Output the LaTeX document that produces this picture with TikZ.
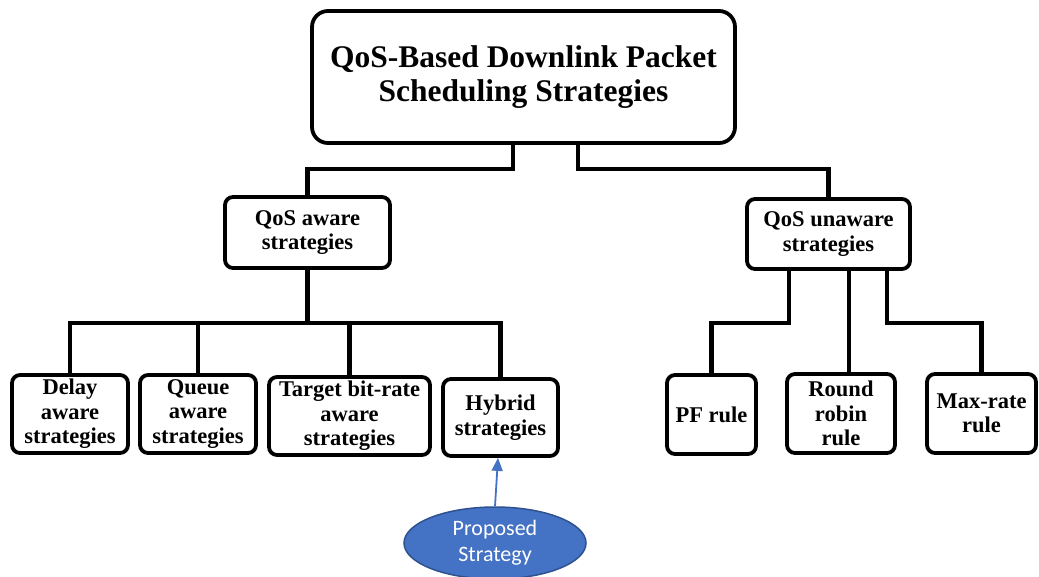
\documentclass[tikz,border=0pt]{standalone}
\usepackage{fontspec}
\setmainfont{Liberation Serif}
\newfontfamily\calfont{Carlito}
\usetikzlibrary{shapes.geometric,arrows.meta,calc}
\definecolor{propblue}{RGB}{68,114,196}
\definecolor{propedge}{RGB}{47,82,143}
\tikzset{
  box/.style={draw, line width=3.8pt, rounded corners=8pt, align=center, inner sep=0pt,
    font=\bfseries\fontsize{22.5}{24.5}\selectfont},
  titlebox/.style={box, rounded corners=16pt, font=\bfseries\fontsize{31.5}{34}\selectfont},
  conn/.style={line width=4.6pt, line join=miter, line cap=rect},
  propnode/.style={ellipse, draw=propedge, line width=1.5pt, fill=propblue, text=white,
    align=center, inner sep=0pt, font=\calfont\fontsize{22}{26}\selectfont},
  proparrow/.style={draw=propblue, line width=1.8pt, -{Triangle[length=13pt,width=11pt,fill=propblue]}}
}
\begin{document}
\begin{tikzpicture}[x=1pt,y=-1pt]
\useasboundingbox (0,0) rectangle (1039,576);
% nodes
\node[titlebox, minimum width=423pt, minimum height=132pt] (top) at (523.5,77) {QoS-Based Downlink Packet\\Scheduling Strategies};
\node[box, minimum width=165pt, minimum height=71pt] (qa) at (307.5,232.5) {QoS aware\\strategies};
\node[box, minimum width=163pt, minimum height=70pt] (qu) at (828.5,234) {QoS unaware\\strategies};
\node[box, minimum width=116pt, minimum height=78pt] (delay) at (70,414) {Delay\\aware\\strategies};
\node[box, minimum width=116pt, minimum height=78pt] (queue) at (198,414) {Queue\\aware\\strategies};
\node[box, minimum width=161pt, minimum height=78pt] (target) at (349.5,416) {Target bit-rate\\aware\\strategies};
\node[box, minimum width=115pt, minimum height=77pt] (hybrid) at (500.5,417.5) {Hybrid\\strategies};
\node[box, minimum width=89pt, minimum height=79pt] (pf) at (711.5,414.5) {PF rule};
\node[box, minimum width=108pt, minimum height=79pt] (rr) at (841,413.5) {Round\\robin\\rule};
\node[box, minimum width=109pt, minimum height=79pt] (mr) at (981.5,413.5) {Max-rate\\rule};
\node[propnode, minimum width=182pt, minimum height=72pt] (prop) at (495,543) {Proposed\\Strategy};
% junction coordinates
\coordinate (j1) at (513,169);
\coordinate (j2) at (578,169);
\coordinate (j3) at (307,323);
\coordinate (k1) at (789,323);
\coordinate (k2) at (849,323);
\coordinate (k3) at (887,323);
% connectors
\draw[conn] (j1 |- top.south) -- (j1) -- (j1 -| qa.north) -- (qa.north);
\draw[conn] (j2 |- top.south) -- (j2) -- (j2 -| qu.north) -- (qu.north);
\draw[conn] (qa.south) -- (qa.south |- j3);
\draw[conn] (delay.north) -- (delay.north |- j3) -- (hybrid.north |- j3) -- (hybrid.north);
\draw[conn] (queue.north) -- (queue.north |- j3);
\draw[conn] (target.north) -- (target.north |- j3);
\draw[conn] (k1 |- qu.south) -- (k1) -- (k1 -| pf.north) -- (pf.north);
\draw[conn] (k2 |- qu.south) -- (k2 |- rr.north);
\draw[conn] (k3 |- qu.south) -- (k3) -- (k3 -| mr.north) -- (mr.north);
\draw[proparrow] (prop.north) -- ([xshift=-2.5pt]hybrid.south);
\end{tikzpicture}
\end{document}
